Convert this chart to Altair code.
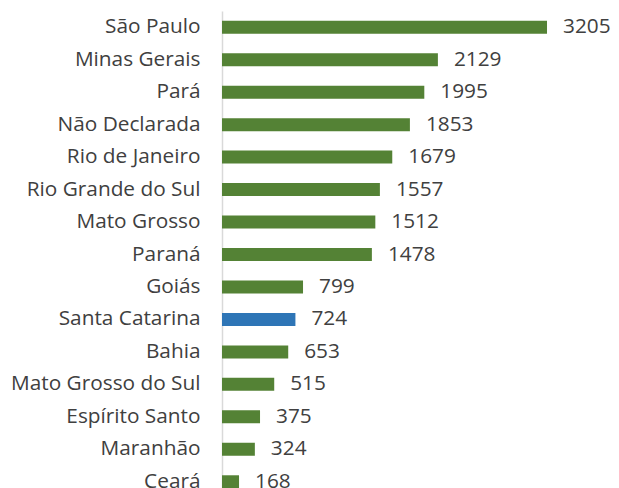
import altair as alt
import pandas as pd

states = ["São Paulo", "Minas Gerais", "Pará", "Não Declarada", "Rio de Janeiro",
          "Rio Grande do Sul", "Mato Grosso", "Paraná", "Goiás", "Santa Catarina",
          "Bahia", "Mato Grosso do Sul", "Espírito Santo", "Maranhão", "Ceará"]
values = [3205, 2129, 1995, 1853, 1679, 1557, 1512, 1478, 799, 724, 653, 515, 375, 324, 168]
highlight = "Santa Catarina"

df = pd.DataFrame({"estado": states, "valor": values})
df["cor"] = ["destaque" if s == highlight else "normal" for s in states]

FONT = "Open Sans"
y = alt.Y("estado:N", sort=states, title=None,
          scale=alt.Scale(range=[0, 487], paddingInner=0.6, paddingOuter=0.3),
          axis=alt.Axis(domainColor="#d9d9d9", domainWidth=1.5, ticks=False,
                        labelPadding=22, labelFontSize=20.8, labelFont=FONT,
                        labelColor="#404040", labelLimit=300))
x = alt.X("valor:Q", title=None, scale=alt.Scale(domain=[0, 3836], nice=False, zero=True),
          axis=None)

bars = alt.Chart(df).mark_bar().encode(
    x=x, y=y,
    color=alt.Color("cor:N", scale=alt.Scale(domain=["normal", "destaque"],
                                             range=["#548235", "#2e75b6"]), legend=None),
)
labels = alt.Chart(df).mark_text(align="left", baseline="middle", dx=16, fontSize=20.8,
                                 font=FONT, color="#404040").encode(
    x=x, y=y, text="valor:Q")

chart = (bars + labels).properties(
    width=389, height=477,
    autosize=alt.AutoSizeParams(type="none"),
    padding={"left": 214, "top": 3, "right": 0, "bottom": 0},
).configure_view(stroke=None)

chart.save("out.html", embed_options={"renderer": "svg", "actions": False})
